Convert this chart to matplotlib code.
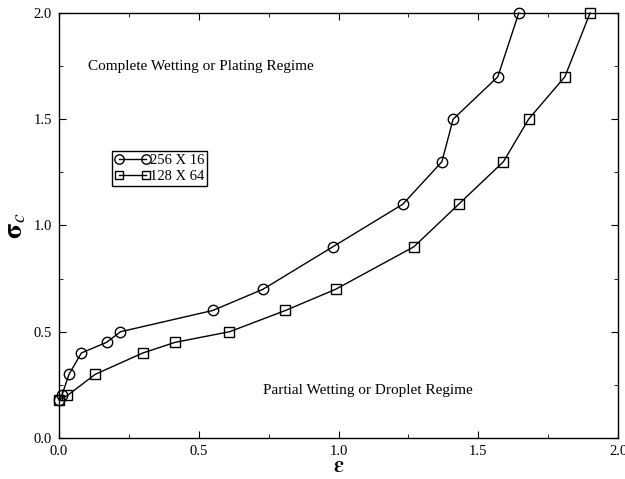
import matplotlib
matplotlib.use("Agg")
import matplotlib.pyplot as plt
from matplotlib.ticker import MultipleLocator

plt.rcParams["font.family"] = ["Liberation Serif", "DejaVu Serif"]
plt.rcParams["mathtext.fontset"] = "stix"

# 256 X 16
eps_a = [0.0, 0.01, 0.036, 0.08, 0.17, 0.22, 0.55, 0.73, 0.98, 1.23, 1.37, 1.41, 1.57, 1.645]
sig_a = [0.18, 0.2, 0.3, 0.4, 0.45, 0.5, 0.6, 0.7, 0.9, 1.1, 1.3, 1.5, 1.7, 2.0]

# 128 X 64
eps_b = [0.0, 0.03, 0.13, 0.30, 0.415, 0.61, 0.81, 0.99, 1.27, 1.43, 1.59, 1.68, 1.81, 1.90]
sig_b = [0.18, 0.2, 0.3, 0.4, 0.45, 0.5, 0.6, 0.7, 0.9, 1.1, 1.3, 1.5, 1.7, 2.0]

fig = plt.figure(figsize=(6.25, 4.79), dpi=100)
ax = fig.add_axes([0.0944, 0.0856, 0.8944, 0.8873])

ax.plot(eps_a, sig_a, color="black", lw=1, marker="o", ms=7.5, mfc="none",
        mec="black", mew=1, label="256 X 16", clip_on=False)
ax.plot(eps_b, sig_b, color="black", lw=1, marker="s", ms=6.5, mfc="none",
        mec="black", mew=1, label="128 X 64", clip_on=False)

ax.set_xlim(0, 2.0)
ax.set_ylim(0, 2.0)
ax.xaxis.set_major_locator(MultipleLocator(0.5))
ax.xaxis.set_minor_locator(MultipleLocator(0.25))
ax.yaxis.set_major_locator(MultipleLocator(0.5))
ax.yaxis.set_minor_locator(MultipleLocator(0.25))
ax.xaxis.set_major_formatter(plt.FormatStrFormatter("%.1f"))
ax.yaxis.set_major_formatter(plt.FormatStrFormatter("%.1f"))
ax.tick_params(which="both", direction="in", top=True, right=True,
               labelsize=10.5, pad=5)
ax.tick_params(which="major", length=5)
ax.tick_params(which="minor", length=3)
for s in ax.spines.values():
    s.set_linewidth(1)

ax.set_xlabel(r"$\mathbf{\varepsilon}$", fontsize=16, labelpad=0)
ax.set_ylabel(r"$\mathbf{\sigma}_c$", fontsize=20, labelpad=4)

ax.text(0.105, 1.75, "Complete Wetting or Plating Regime", fontsize=11, va="center")
ax.text(0.73, 0.225, "Partial Wetting or Droplet Regime", fontsize=11, va="center")

leg = ax.legend(loc="upper left", bbox_to_anchor=(0.095, 0.676), numpoints=2,
                fancybox=False, edgecolor="black", framealpha=1, fontsize=10.5,
                handlelength=2.4, handletextpad=0.0, borderpad=0.2,
                labelspacing=0.2, borderaxespad=0, markerscale=0.9)
leg.get_frame().set_linewidth(1)

fig.savefig("out.png", dpi=100)
